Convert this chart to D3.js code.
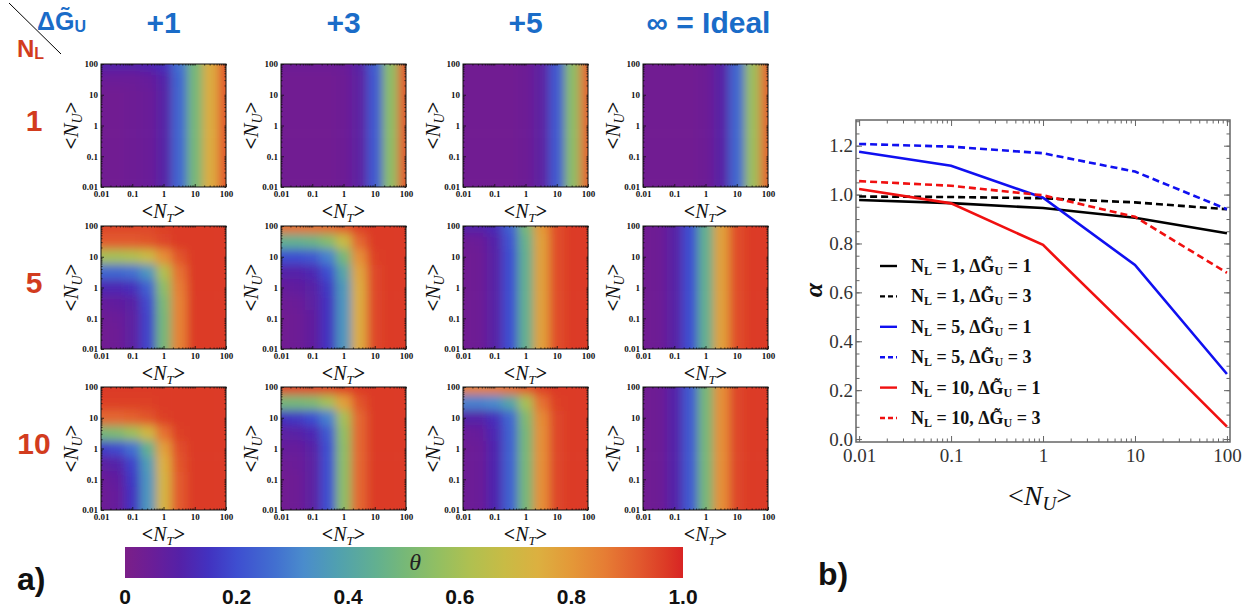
<!DOCTYPE html>
<html>
<head>
<meta charset="utf-8">
<script src="https://cdn.jsdelivr.net/npm/d3@7"></script>
<style>
  body { margin: 0; background: #fff; }
  svg { display: block; }
  .hm .tick text { font-family: "Liberation Serif", "Times New Roman", serif; font-weight: bold; font-size: 9px; fill: #111; }
  .hm .tick line { stroke: #111; stroke-width: 0.8; }
  .hm .domain { display: none; }
  .bx .tick text { font-family: "Liberation Serif", "Times New Roman", serif; font-size: 19px; fill: #333; }
  .bx .tick line { stroke: #666; stroke-width: 1; }
  .bx .domain { display: none; }
</style>
</head>
<body>
<svg id="fig" width="1247" height="614"></svg>
<script>
// ---------- data : heatmaps (theta), rows NU = 100 .. 0.01 (top to bottom), cols NT = 0.01 .. 100 ----------
var gridN = [0.01, 0.0316, 0.1, 0.316, 1, 3.16, 10, 31.6, 100];

var theta_L1_G1 = [
  [.10,.10,.10,.11,.14,.27,.50,.75,.92],
  [.05,.05,.05,.06,.10,.25,.50,.75,.92],
  [.03,.03,.04,.05,.09,.25,.50,.75,.92],
  [.03,.03,.04,.05,.09,.25,.50,.75,.92],
  [.03,.03,.04,.05,.09,.25,.50,.75,.92],
  [.03,.03,.04,.05,.09,.25,.50,.75,.92],
  [.03,.03,.04,.05,.09,.25,.50,.75,.92],
  [.03,.03,.04,.05,.09,.25,.50,.75,.92],
  [.03,.03,.04,.05,.09,.25,.50,.75,.92]
];
var theta_L1_G3 = [
  [.04,.04,.04,.04,.05,.09,.23,.55,.92],
  [.03,.03,.03,.03,.04,.08,.22,.55,.92],
  [.03,.03,.03,.03,.04,.08,.22,.55,.92],
  [.03,.03,.03,.03,.04,.08,.22,.55,.92],
  [.03,.03,.03,.03,.04,.08,.22,.55,.92],
  [.03,.03,.03,.03,.04,.08,.22,.55,.92],
  [.03,.03,.03,.03,.04,.08,.22,.55,.92],
  [.03,.03,.03,.03,.04,.08,.22,.55,.92],
  [.03,.03,.03,.03,.04,.08,.22,.55,.92]
];
var theta_L1_G5 = [
  [.03,.03,.03,.03,.04,.08,.22,.55,.90],
  [.03,.03,.03,.03,.04,.08,.22,.55,.90],
  [.03,.03,.03,.03,.04,.08,.22,.55,.90],
  [.03,.03,.03,.03,.04,.08,.22,.55,.90],
  [.03,.03,.03,.03,.04,.08,.22,.55,.90],
  [.03,.03,.03,.03,.04,.08,.22,.55,.90],
  [.03,.03,.03,.03,.04,.08,.22,.55,.90],
  [.03,.03,.03,.03,.04,.08,.22,.55,.90],
  [.03,.03,.03,.03,.04,.08,.22,.55,.90]
];
var theta_L1_Ginf = [
  [.03,.03,.03,.03,.04,.09,.25,.58,.90],
  [.03,.03,.03,.03,.04,.09,.25,.58,.90],
  [.03,.03,.03,.03,.04,.09,.25,.58,.90],
  [.03,.03,.03,.03,.04,.09,.25,.58,.90],
  [.03,.03,.03,.03,.04,.09,.25,.58,.90],
  [.03,.03,.03,.03,.04,.09,.25,.58,.90],
  [.03,.03,.03,.03,.04,.09,.25,.58,.90],
  [.03,.03,.03,.03,.04,.09,.25,.58,.90],
  [.03,.03,.03,.03,.04,.09,.25,.58,.90]
];
var theta_L5_G1 = [
  [.95,.95,.95,.95,.96,.97,.97,.97,.97],
  [.92,.92,.92,.93,.95,.97,.97,.97,.97],
  [.60,.60,.62,.68,.82,.93,.97,.97,.97],
  [.25,.25,.27,.35,.62,.88,.97,.97,.97],
  [.12,.12,.14,.24,.55,.86,.97,.97,.97],
  [.06,.07,.09,.19,.51,.85,.97,.97,.97],
  [.04,.05,.08,.18,.50,.85,.97,.97,.97],
  [.03,.04,.08,.18,.50,.85,.97,.97,.97],
  [.03,.04,.08,.18,.50,.85,.97,.97,.97]
];
var theta_L5_G3 = [
  [.88,.88,.88,.89,.92,.96,.97,.97,.97],
  [.45,.45,.47,.53,.68,.90,.97,.97,.97],
  [.20,.20,.22,.30,.50,.82,.96,.97,.97],
  [.10,.10,.12,.20,.40,.77,.95,.97,.97],
  [.06,.07,.09,.16,.36,.75,.95,.97,.97],
  [.04,.05,.08,.15,.35,.75,.95,.97,.97],
  [.03,.04,.07,.15,.35,.75,.95,.97,.97],
  [.03,.04,.07,.15,.35,.75,.95,.97,.97],
  [.03,.04,.07,.15,.35,.75,.95,.97,.97]
];
var theta_L5_G5 = [
  [.10,.10,.13,.24,.50,.80,.94,.97,.97],
  [.04,.05,.10,.21,.46,.78,.94,.97,.97],
  [.03,.04,.09,.20,.45,.78,.94,.97,.97],
  [.03,.04,.09,.20,.45,.78,.94,.97,.97],
  [.03,.04,.09,.20,.45,.78,.94,.97,.97],
  [.03,.04,.09,.20,.45,.78,.94,.97,.97],
  [.03,.04,.09,.20,.45,.78,.94,.97,.97],
  [.03,.04,.09,.20,.45,.78,.94,.97,.97],
  [.03,.04,.09,.20,.45,.78,.94,.97,.97]
];
var theta_L5_Ginf = [
  [.03,.04,.09,.20,.45,.78,.94,.97,.97],
  [.03,.04,.09,.20,.45,.78,.94,.97,.97],
  [.03,.04,.09,.20,.45,.78,.94,.97,.97],
  [.03,.04,.09,.20,.45,.78,.94,.97,.97],
  [.03,.04,.09,.20,.45,.78,.94,.97,.97],
  [.03,.04,.09,.20,.45,.78,.94,.97,.97],
  [.03,.04,.09,.20,.45,.78,.94,.97,.97],
  [.03,.04,.09,.20,.45,.78,.94,.97,.97],
  [.03,.04,.09,.20,.45,.78,.94,.97,.97]
];
var theta_L10_G1 = [
  [.97,.97,.97,.97,.97,.97,.97,.97,.97],
  [.96,.96,.96,.96,.97,.97,.97,.97,.97],
  [.90,.90,.91,.93,.96,.97,.97,.97,.97],
  [.50,.52,.58,.70,.88,.96,.97,.97,.97],
  [.17,.19,.27,.45,.78,.94,.97,.97,.97],
  [.08,.10,.18,.37,.74,.93,.97,.97,.97],
  [.05,.07,.16,.35,.72,.92,.97,.97,.97],
  [.04,.06,.15,.35,.72,.92,.97,.97,.97],
  [.04,.06,.15,.35,.72,.92,.97,.97,.97]
];
var theta_L10_G3 = [
  [.95,.95,.95,.95,.96,.97,.97,.97,.97],
  [.50,.50,.52,.60,.78,.93,.97,.97,.97],
  [.15,.16,.20,.30,.60,.90,.97,.97,.97],
  [.08,.09,.12,.22,.56,.90,.97,.97,.97],
  [.06,.06,.09,.20,.55,.90,.97,.97,.97],
  [.04,.05,.08,.20,.55,.90,.97,.97,.97],
  [.03,.04,.08,.20,.55,.90,.97,.97,.97],
  [.03,.04,.08,.20,.55,.90,.97,.97,.97],
  [.03,.04,.08,.20,.55,.90,.97,.97,.97]
];
var theta_L10_G5 = [
  [.85,.85,.86,.88,.92,.96,.97,.97,.97],
  [.30,.30,.32,.40,.60,.88,.96,.97,.97],
  [.10,.10,.14,.25,.52,.83,.95,.97,.97],
  [.05,.06,.12,.24,.50,.82,.95,.97,.97],
  [.04,.05,.11,.24,.50,.82,.95,.97,.97],
  [.04,.05,.11,.24,.50,.82,.95,.97,.97],
  [.04,.05,.11,.24,.50,.82,.95,.97,.97],
  [.04,.05,.11,.24,.50,.82,.95,.97,.97],
  [.04,.05,.11,.24,.50,.82,.95,.97,.97]
];
var theta_L10_Ginf = [
  [.03,.04,.10,.22,.50,.82,.95,.97,.97],
  [.03,.04,.10,.22,.50,.82,.95,.97,.97],
  [.03,.04,.10,.22,.50,.82,.95,.97,.97],
  [.03,.04,.10,.22,.50,.82,.95,.97,.97],
  [.03,.04,.10,.22,.50,.82,.95,.97,.97],
  [.03,.04,.10,.22,.50,.82,.95,.97,.97],
  [.03,.04,.10,.22,.50,.82,.95,.97,.97],
  [.03,.04,.10,.22,.50,.82,.95,.97,.97],
  [.03,.04,.10,.22,.50,.82,.95,.97,.97]
];

var rowLabels = ["1", "5", "10"];
var colLabels = ["+1", "+3", "+5", "\u221E = Ideal"];
var panels = [
  [theta_L1_G1, theta_L1_G3, theta_L1_G5, theta_L1_Ginf],
  [theta_L5_G1, theta_L5_G3, theta_L5_G5, theta_L5_Ginf],
  [theta_L10_G1, theta_L10_G3, theta_L10_G5, theta_L10_Ginf]
];
var decades = [0.01, 0.1, 1, 10, 100];
var cbTicks = [0, 0.2, 0.4, 0.6, 0.8, 1.0];

// ---------- data : panel b (alpha vs <NU>) ----------
var nuVals = [0.01, 0.1, 1, 10, 100];
var alpha_L1_G1 = [0.978, 0.965, 0.945, 0.905, 0.842];
var alpha_L1_G3 = [0.992, 0.990, 0.985, 0.968, 0.940];
var alpha_L5_G1 = [1.175, 1.118, 0.987, 0.712, 0.266];
var alpha_L5_G3 = [1.207, 1.196, 1.169, 1.094, 0.940];
var alpha_L10_G1 = [1.023, 0.964, 0.794, 0.426, 0.051];
var alpha_L10_G3 = [1.055, 1.036, 0.997, 0.909, 0.680];
var seriesNL = ["1", "1", "5", "5", "10", "10"];
var seriesG = ["1", "3", "1", "3", "1", "3"];
var alphaTicks = [0.0, 0.2, 0.4, 0.6, 0.8, 1.0, 1.2];

// ---------- colormap ----------
var cmapStops = [0, .05, .1, .15, .2, .27, .32, .38, .45, .5, .56, .62, .68, .74, .8, .86, .92, .97, 1];
var cmapColors = ["#7b1f88", "#6a1e98", "#5421a8", "#4232c0", "#3e4ed0", "#4270d0", "#4a8ccc", "#50a0b0",
  "#62b090", "#76b878", "#92bf62", "#b0c050", "#c8bb45", "#dcb040", "#e49838", "#e67d34", "#e25a2e", "#dc3a26", "#d82424"];
var color = d3.scaleLinear().domain(cmapStops).range(cmapColors).clamp(true);

var svg = d3.select("#fig");
var defs = svg.append("defs");
defs.append("filter").attr("id", "soft")
  .attr("x", "-10%").attr("y", "-10%").attr("width", "120%").attr("height", "120%")
  .append("feGaussianBlur").attr("stdDeviation", 5);

var blue = "#1a6cc8", red = "#d23c1e";
var serif = "'Liberation Serif', 'Times New Roman', serif";
var sans = "'Liberation Sans', Arial, Helvetica, sans-serif";

// ---------- panel a : header ----------
svg.append("line").attr("x1", 9).attr("y1", 3).attr("x2", 61).attr("y2", 54)
  .attr("stroke", "#000").attr("stroke-width", 1);
var hdr = svg.append("text").attr("x", 37).attr("y", 30)
  .attr("font-family", sans).attr("font-weight", "bold").attr("font-size", 25).attr("fill", blue);
hdr.append("tspan").text("\u0394G\u0303");
hdr.append("tspan").attr("font-size", 16).attr("dy", 2).text("U");
var nl = svg.append("text").attr("x", 17).attr("y", 57)
  .attr("font-family", sans).attr("font-weight", "bold").attr("font-size", 24).attr("fill", red);
nl.append("tspan").text("N");
nl.append("tspan").attr("font-size", 16).attr("dy", 2).text("L");

var colX = [101, 281, 463, 643], rowY = [64, 226, 387];
var pw = 125, ph = 123;

colLabels.forEach(function(t, i) {
  svg.append("text").attr("x", colX[i] + pw / 2 + (i === 3 ? 3 : 0)).attr("y", 33).attr("text-anchor", "middle")
    .attr("font-family", sans).attr("font-weight", "bold").attr("font-size", 30).attr("fill", blue).text(t);
});
rowLabels.forEach(function(t, i) {
  svg.append("text").attr("x", 34).attr("y", rowY[i] + ph / 2 - 5).attr("text-anchor", "middle")
    .attr("dominant-baseline", "central")
    .attr("font-family", sans).attr("font-weight", "bold").attr("font-size", 30).attr("fill", red).text(t);
});

// minor log ticks for the frames
var minorLog = [];
[0.01, 0.1, 1, 10].forEach(function(d) { for (var k = 2; k < 10; k++) minorLog.push(d * k); });

var half = Math.pow(10, 0.25);

panels.forEach(function(row, r) {
  row.forEach(function(grid, c) {
    var x0 = colX[c], y0 = rowY[r];
    var xs = d3.scaleLog().domain([0.01, 100]).range([x0, x0 + pw]);
    var ys = d3.scaleLog().domain([0.01, 100]).range([y0 + ph, y0]);
    var g = svg.append("g").attr("class", "hm");
    var cid = "clip" + r + "_" + c;
    defs.append("clipPath").attr("id", cid).append("rect")
      .attr("x", x0).attr("y", y0).attr("width", pw).attr("height", ph);

    // cells, one per grid sample, blurred to a smooth field
    var cells = [];
    grid.forEach(function(vals, i) {
      var nu = gridN[gridN.length - 1 - i];
      vals.forEach(function(v, j) { cells.push({nt: gridN[j], nu: nu, v: v, i: i, j: j}); });
    });
    g.append("g").attr("clip-path", "url(#" + cid + ")")
      .append("g").attr("filter", "url(#soft)")
      .selectAll("rect").data(cells).enter().append("rect")
      .attr("x", function(d) { return xs(d.nt / (d.j === 0 ? half * 8 : half)); })
      .attr("width", function(d) {
        var lo = d.nt / (d.j === 0 ? half * 8 : half), hi = d.nt * (d.j === 8 ? half * 8 : half);
        return xs(hi) - xs(lo) + 0.6;
      })
      .attr("y", function(d) { return ys(d.nu * (d.i === 0 ? half * 8 : half)); })
      .attr("height", function(d) {
        var lo = d.nu / (d.i === 8 ? half * 8 : half), hi = d.nu * (d.i === 0 ? half * 8 : half);
        return ys(lo) - ys(hi) + 0.6;
      })
      .attr("fill", function(d) { return color(d.v); });

    // frame
    g.append("rect").attr("x", x0).attr("y", y0).attr("width", pw).attr("height", ph)
      .attr("fill", "none").attr("stroke", "#111").attr("stroke-width", 1);

    // axes (inward ticks)
    g.append("g").attr("transform", "translate(0," + (y0 + ph) + ")")
      .call(d3.axisBottom(xs).tickValues(decades).tickSize(-3).tickPadding(4).tickFormat(String));
    g.append("g").attr("transform", "translate(0," + (y0 + ph) + ")")
      .call(d3.axisBottom(xs).tickValues(minorLog).tickSize(-1.5).tickFormat(""));
    g.append("g").attr("transform", "translate(0," + y0 + ")")
      .call(d3.axisTop(xs).tickValues(decades.concat(minorLog)).tickSize(-1.5).tickFormat(""));
    g.append("g").attr("transform", "translate(" + x0 + ",0)")
      .call(d3.axisLeft(ys).tickValues(decades).tickSize(-3).tickPadding(3).tickFormat(String));
    g.append("g").attr("transform", "translate(" + x0 + ",0)")
      .call(d3.axisLeft(ys).tickValues(minorLog).tickSize(-1.5).tickFormat(""));
    g.append("g").attr("transform", "translate(" + (x0 + pw) + ",0)")
      .call(d3.axisRight(ys).tickValues(decades.concat(minorLog)).tickSize(-1.5).tickFormat(""));

    // axis titles
    var tx = g.append("text").attr("x", x0 + pw / 2).attr("y", y0 + ph + 31).attr("text-anchor", "middle")
      .attr("font-family", serif).attr("font-size", 20).attr("fill", "#111");
    tx.append("tspan").attr("font-weight", "bold").text("<");
    tx.append("tspan").attr("font-style", "italic").text("N");
    tx.append("tspan").attr("font-style", "italic").attr("font-size", 13).attr("dy", 4).text("T");
    tx.append("tspan").attr("font-weight", "bold").attr("dy", -4).text(">");
    var ty = g.append("text").attr("transform", "translate(" + (x0 - 23) + "," + (y0 + ph / 2) + ") rotate(-90)")
      .attr("text-anchor", "middle")
      .attr("font-family", serif).attr("font-size", 21).attr("fill", "#111");
    ty.append("tspan").attr("font-weight", "bold").text("<");
    ty.append("tspan").attr("font-style", "italic").text("N");
    ty.append("tspan").attr("font-style", "italic").attr("font-size", 14).attr("dy", 4).text("U");
    ty.append("tspan").attr("font-weight", "bold").attr("dy", -4).text(">");
  });
});

// ---------- colour bar ----------
var cbx = d3.scaleLinear().domain([0, 1]).range([125, 683]);
var grad = defs.append("linearGradient").attr("id", "cbar").attr("x1", "0%").attr("x2", "100%");
grad.selectAll("stop").data(cmapStops).enter().append("stop")
  .attr("offset", function(d) { return (d * 100) + "%"; })
  .attr("stop-color", function(d) { return color(d); });
svg.append("rect").attr("x", cbx(0)).attr("y", 547).attr("width", cbx(1) - cbx(0)).attr("height", 31)
  .attr("fill", "url(#cbar)");
svg.append("text").attr("x", cbx(0.52)).attr("y", 570).attr("text-anchor", "middle")
  .attr("font-family", serif).attr("font-style", "italic").attr("font-size", 24).attr("fill", "#222").text("\u03B8");
svg.selectAll(".cbl").data(cbTicks).enter().append("text").attr("class", "cbl")
  .attr("x", function(d) { return cbx(d); }).attr("y", 604).attr("text-anchor", "middle")
  .attr("font-family", sans).attr("font-weight", "bold").attr("font-size", 21).attr("fill", "#111")
  .text(function(d) { return d === 0 ? "0" : d.toFixed(1); });

svg.append("text").attr("x", 17).attr("y", 590).attr("font-family", sans).attr("font-weight", "bold")
  .attr("font-size", 32).attr("fill", "#111").text("a)");
svg.append("text").attr("x", 818).attr("y", 585).attr("font-family", sans).attr("font-weight", "bold")
  .attr("font-size", 32).attr("fill", "#111").text("b)");

// ---------- panel b ----------
var bL = 856, bR = 1230, bT = 120, bB = 442;
var bx = d3.scaleLog().domain([0.00925, 108]).range([bL, bR]);
var by = d3.scaleLinear().domain([-0.012, 1.305]).range([bB, bT]);
var gb = svg.append("g").attr("class", "bx");

var minorAlpha = d3.range(0, 1.31, 0.05);
gb.append("g").attr("transform", "translate(" + bL + ",0)")
  .call(d3.axisLeft(by).tickValues(alphaTicks).tickSize(-6).tickPadding(3).tickFormat(d3.format(".1f")));
gb.append("g").attr("transform", "translate(" + bL + ",0)")
  .call(d3.axisLeft(by).tickValues(minorAlpha).tickSize(-3.5).tickFormat(""));
gb.append("g").attr("transform", "translate(" + bR + ",0)")
  .call(d3.axisRight(by).tickValues(alphaTicks).tickSize(-6).tickFormat(""));
gb.append("g").attr("transform", "translate(" + bR + ",0)")
  .call(d3.axisRight(by).tickValues(minorAlpha).tickSize(-3.5).tickFormat(""));
gb.append("g").attr("transform", "translate(0," + bB + ")")
  .call(d3.axisBottom(bx).tickValues(nuVals).tickSize(-6).tickPadding(7).tickFormat(String));
gb.append("g").attr("transform", "translate(0," + bB + ")")
  .call(d3.axisBottom(bx).tickValues(minorLog).tickSize(-3.5).tickFormat(""));
gb.append("g").attr("transform", "translate(0," + bT + ")")
  .call(d3.axisTop(bx).tickValues(nuVals).tickSize(-6).tickFormat(""));
gb.append("g").attr("transform", "translate(0," + bT + ")")
  .call(d3.axisTop(bx).tickValues(minorLog).tickSize(-3.5).tickFormat(""));
gb.append("rect").attr("x", bL).attr("y", bT).attr("width", bR - bL).attr("height", bB - bT)
  .attr("fill", "none").attr("stroke", "#666").attr("stroke-width", 1.5);

var series = [
  {v: alpha_L1_G1, c: "#000", dash: null},
  {v: alpha_L1_G3, c: "#000", dash: "7,4"},
  {v: alpha_L5_G1, c: "#1010f0", dash: null},
  {v: alpha_L5_G3, c: "#1010f0", dash: "7,4"},
  {v: alpha_L10_G1, c: "#f01010", dash: null},
  {v: alpha_L10_G3, c: "#f01010", dash: "7,4"}
];
var line = d3.line().x(function(d, i) { return bx(nuVals[i]); }).y(function(d) { return by(d); });
gb.selectAll(".ser").data(series).enter().append("path").attr("class", "ser")
  .attr("d", function(s) { return line(s.v); })
  .attr("fill", "none").attr("stroke", function(s) { return s.c; })
  .attr("stroke-width", 2.6).attr("stroke-dasharray", function(s) { return s.dash; });

// legend
series.forEach(function(s, i) {
  var ly = 266 + i * 30.4;
  gb.append("line").attr("x1", 880).attr("x2", 897).attr("y1", ly).attr("y2", ly)
    .attr("stroke", s.c).attr("stroke-width", 2.4).attr("stroke-dasharray", s.dash ? "5,3" : null);
  var t = gb.append("text").attr("x", 911).attr("y", ly + 6)
    .attr("font-family", serif).attr("font-weight", "bold").attr("font-size", 18).attr("fill", "#111");
  t.append("tspan").text("N");
  t.append("tspan").attr("font-size", 12).attr("dy", 3).text("L");
  t.append("tspan").attr("dy", -3).text(" = " + seriesNL[i] + ", \u0394G\u0303");
  t.append("tspan").attr("font-size", 12).attr("dy", 3).text("U");
  t.append("tspan").attr("dy", -3).text(" = " + seriesG[i]);
});

// axis titles
svg.append("text").attr("transform", "translate(822,290) rotate(-90)").attr("text-anchor", "middle")
  .attr("font-family", serif).attr("font-style", "italic").attr("font-weight", "bold")
  .attr("font-size", 26).attr("fill", "#111").text("\u03B1");
var nu = svg.append("text").attr("x", 1040).attr("y", 505).attr("text-anchor", "middle")
  .attr("font-family", serif).attr("font-size", 28).attr("fill", "#111");
nu.append("tspan").text("<");
nu.append("tspan").attr("font-style", "italic").text("N");
nu.append("tspan").attr("font-style", "italic").attr("font-size", 19).attr("dy", 5).text("U");
nu.append("tspan").attr("dy", -5).text(">");
</script>
</body>
</html>
